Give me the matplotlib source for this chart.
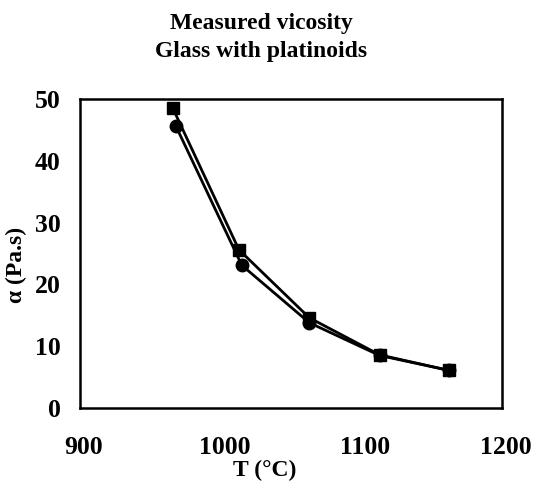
import matplotlib
matplotlib.use("Agg")
import matplotlib.pyplot as plt
import matplotlib.transforms as mtransforms

temp_sq = [966, 1013, 1063, 1113, 1162]
visc_sq = [48.5, 25.6, 14.6, 8.6, 6.1]
temp_ci = [968, 1015, 1063, 1113, 1162]
visc_ci = [45.7, 23.1, 13.8, 8.5, 6.1]
xticks = [900, 1000, 1100, 1200]
yticks = [0, 10, 20, 30, 40, 50]

plt.rcParams['font.family'] = ['Liberation Serif', 'DejaVu Serif']
plt.rcParams['font.weight'] = 'bold'

fig = plt.figure(figsize=(5.34, 4.84), dpi=100)
W, H = 534, 484
ax = fig.add_axes([80 / W, 1 - 408 / H, (502 - 80) / W, (408 - 99) / H])

ax.plot(temp_sq, visc_sq, color='black', lw=2.0, marker='s', ms=8.5, clip_on=False)
ax.plot(temp_ci, visc_ci, color='black', lw=2.0, marker='o', ms=9, clip_on=False)

ax.set_xlim(900, 1200)
ax.set_ylim(0, 50)
ax.set_xticks(xticks)
ax.set_yticks(yticks)
ax.tick_params(length=0, labelsize=18.5)
ax.tick_params(axis='x', pad=20)
ax.tick_params(axis='y', pad=14)
shift = mtransforms.ScaledTranslation(4 / 100, 0, fig.dpi_scale_trans)
for lab in ax.get_xticklabels():
    lab.set_fontweight('bold')
    lab.set_transform(lab.get_transform() + shift)
for lab in ax.get_yticklabels():
    lab.set_fontweight('bold')
for s in ax.spines.values():
    s.set_linewidth(1.8)

fig.text(261 / W, 1 - 23 / H, 'Measured vicosity', ha='center', va='center', fontsize=17, fontweight='bold')
fig.text(261 / W, 1 - 51 / H, 'Glass with platinoids', ha='center', va='center', fontsize=17, fontweight='bold')
fig.text(265 / W, 1 - 470 / H, 'T (°C)', ha='center', va='center', fontsize=17, fontweight='bold')
fig.text(16 / W, 1 - 265 / H, 'α (Pa.s)', ha='center', va='center', rotation=90, fontsize=17, fontweight='bold')

fig.savefig('out.png', dpi=100)
